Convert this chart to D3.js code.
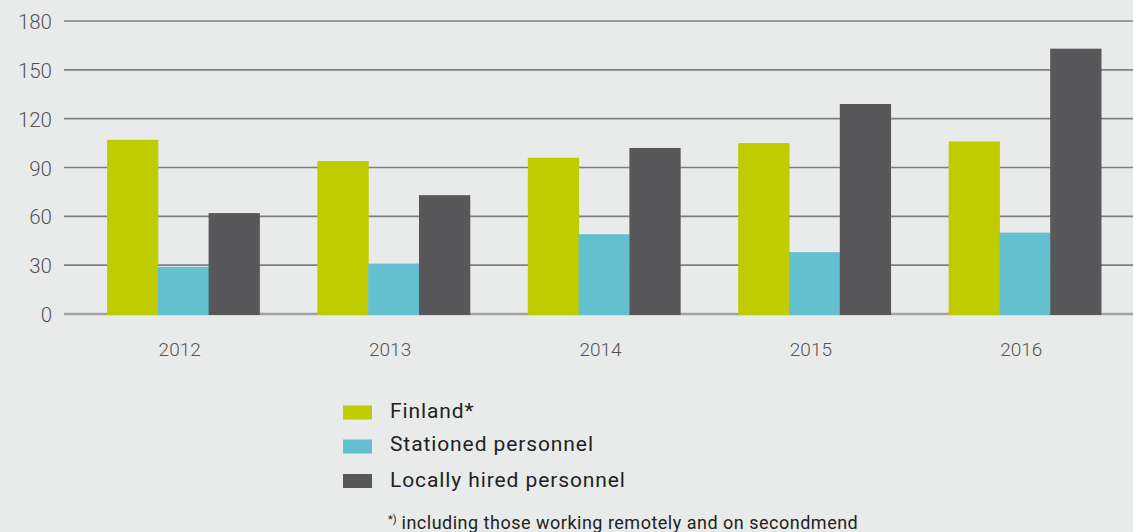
<!DOCTYPE html>
<html><head><meta charset="utf-8">
<script src="https://cdn.jsdelivr.net/npm/d3@7"></script>
<style>
html,body{margin:0;padding:0;background:#e9eaea;}
svg{display:block;font-family:Roboto,"Noto Sans",sans-serif;}
</style></head>
<body>
<svg id="chart" width="1133" height="532"></svg>
<script>
const years = ["2012","2013","2014","2015","2016"];
const seriesNames = ["Finland*","Stationed personnel","Locally hired personnel"];
const finland = [107, 94, 96, 105, 106];
const stationed = [29, 31, 49, 38, 50];
const locallyHired = [62, 73, 102, 129, 163];
const yTicks = [0, 30, 60, 90, 120, 150, 180];
const colors = ["#bfcd00", "#63c0cf", "#58585a"];
const footnote = "including those working remotely and on secondmend";

const svg = d3.select("#chart");
const W = 1133, H = 532;
svg.append("rect").attr("width", W).attr("height", H).attr("fill", "#e9eaea");

const y = d3.scaleLinear().domain([0, 180]).range([314, 21]);
const x0 = d3.scaleBand().domain(years).range([78, 1130]).paddingInner(0.276).paddingOuter(0.138);
const x1 = d3.scaleBand().domain(seriesNames).range([0, x0.bandwidth()]);

// gridlines
const grid = svg.append("g");
grid.selectAll("line").data(yTicks).join("line")
  .attr("x1", 64).attr("x2", W)
  .attr("y1", d => y(d)).attr("y2", d => y(d))
  .attr("stroke", d => d === 0 ? "#a3a3a3" : "#7f7f7f")
  .attr("stroke-width", d => d === 0 ? 2.5 : 1.6);

// y axis labels
const yAxis = d3.axisLeft(y).tickValues(yTicks).tickSize(0).tickPadding(0);
const ya = svg.append("g").attr("transform", "translate(52,1)").call(yAxis);
ya.select(".domain").remove();
ya.selectAll("text").attr("font-size", 20.5).attr("font-weight", 300).attr("fill", "#555")
  .attr("font-family", "Roboto, sans-serif");

// bars
const data = years.map((yr, i) => ({year: yr, vals: [finland[i], stationed[i], locallyHired[i]]}));
const groups = svg.append("g").selectAll("g").data(data).join("g")
  .attr("transform", d => `translate(${x0(d.year)},0)`);
groups.selectAll("rect").data(d => d.vals.map((v, j) => ({name: seriesNames[j], v, j}))).join("rect")
  .attr("x", d => x1(d.name))
  .attr("width", x1.bandwidth() + 0.5)
  .attr("y", d => y(d.v))
  .attr("height", d => y(0) - y(d.v) + 1)
  .attr("fill", d => colors[d.j]);

// x axis labels
const xAxis = d3.axisBottom(x0).tickSize(0).tickPadding(0);
const xa = svg.append("g").attr("transform", "translate(-3.5,342)").call(xAxis);
xa.select(".domain").remove();
xa.selectAll("text").attr("font-size", 19).attr("font-weight", 300).attr("fill", "#555")
  .attr("font-family", "Roboto, sans-serif");

// legend
const leg = svg.append("g");
const boxMid = [412.5, 446.5, 481];
const baselines = [418, 451, 487];
seriesNames.forEach((n, i) => {
  leg.append("rect").attr("x", 343).attr("y", boxMid[i] - 7).attr("width", 29).attr("height", 14).attr("fill", colors[i]);
  leg.append("text").attr("x", 390).attr("y", baselines[i]).attr("font-size", 21)
    .attr("letter-spacing", 0.9).attr("fill", "#222").text(n);
});
const fn = leg.append("text").attr("x", 388).attr("y", 529).attr("font-size", 18)
  .attr("letter-spacing", 0.5).attr("fill", "#222");
fn.append("tspan").attr("font-size", 11).attr("letter-spacing", 0).attr("dy", -6).text("*)");
fn.append("tspan").attr("dy", 6).text(" " + footnote);
</script>
</body></html>
